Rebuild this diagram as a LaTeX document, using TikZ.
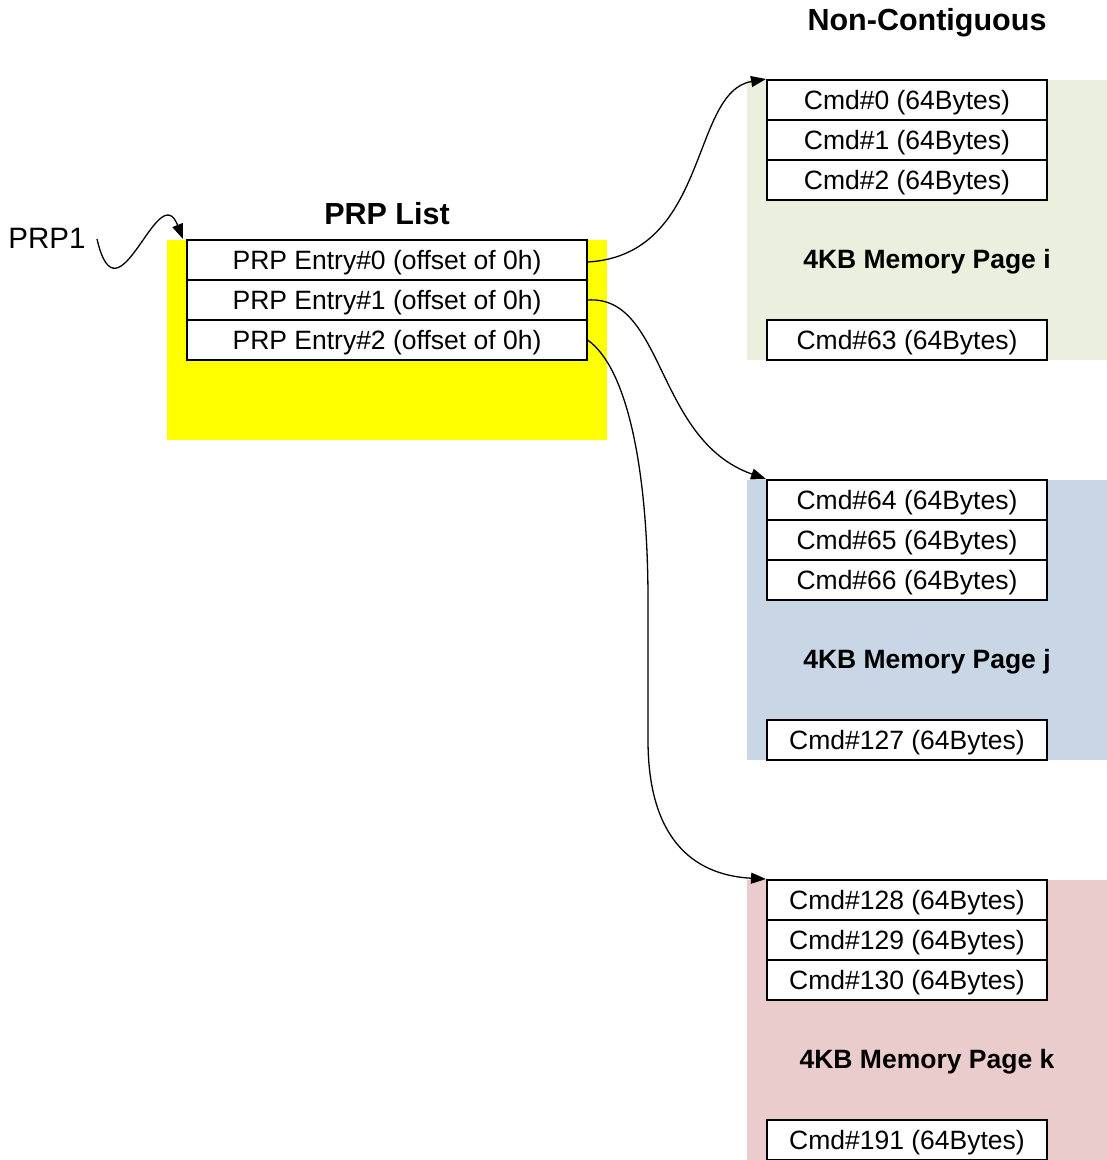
\documentclass[tikz,border=0pt]{standalone}
\usepackage{fontspec}
\setmainfont{Liberation Sans}
\usetikzlibrary{arrows.meta}
\definecolor{pgi}{RGB}{235,240,222}
\definecolor{pgj}{RGB}{200,214,230}
\definecolor{pgk}{RGB}{235,204,204}
\definecolor{ylw}{RGB}{255,255,0}
\tikzset{
  reg/.style={font=\fontsize{26.5}{30}\selectfont, text height=22pt, text depth=3.2pt},
  ttl/.style={font=\fontsize{30.5}{34}\selectfont\bfseries, text height=25pt, text depth=3.2pt},
  pglabel/.style={font=\fontsize{26.5}{30}\selectfont\bfseries, text height=22pt, text depth=3.2pt},
  cmdbox/.style={draw, line width=2pt, fill=white, minimum width=280pt, minimum height=40pt, inner sep=0pt, reg},
  prpbox/.style={draw, line width=1.2pt, fill=white, minimum width=400pt, minimum height=40pt, inner sep=0pt, reg},
  pagebg/.style={inner sep=0pt, minimum width=360pt, minimum height=280pt},
  conn/.style={line width=1.3pt, -{Triangle[length=15pt,width=11pt]}}
}
\begin{document}
\begin{tikzpicture}[x=1pt,y=-1pt]
\useasboundingbox (0,0) rectangle (1107,1160);
\clip (0,0) rectangle (1107,1160);
% backgrounds
\node[pagebg, fill=pgi] (pgI) at (927,220) {};
\node[pagebg, fill=pgj] (pgJ) at (927,620) {};
\node[pagebg, fill=pgk] (pgK) at (927,1020) {};
\node[inner sep=0pt, minimum width=440pt, minimum height=200pt, fill=ylw] (ylwbg) at (387,340) {};
% titles
\node[ttl] (nc) at (927,20) {Non-Contiguous};
\node[ttl] (pl) at (387,214) {PRP List};
\node[font=\fontsize{29.5}{33}\selectfont, text height=24pt, text depth=3.5pt] (prp1) at (47,238) {PRP1};
% PRP entries
\node[prpbox] (e0) at (387,260) {PRP Entry\#0 (offset of 0h)};
\node[prpbox] (e1) at (387,300) {PRP Entry\#1 (offset of 0h)};
\node[prpbox] (e2) at (387,340) {PRP Entry\#2 (offset of 0h)};
% page i
\node[cmdbox] (c0) at (907,100) {Cmd\#0 (64Bytes)};
\node[cmdbox] (c1) at (907,140) {Cmd\#1 (64Bytes)};
\node[cmdbox] (c2) at (907,180) {Cmd\#2 (64Bytes)};
\node[pglabel] (li) at (927,259) {4KB Memory Page i};
\node[cmdbox] (c63) at (907,340) {Cmd\#63 (64Bytes)};
% page j
\node[cmdbox] (c64) at (907,500) {Cmd\#64 (64Bytes)};
\node[cmdbox] (c65) at (907,540) {Cmd\#65 (64Bytes)};
\node[cmdbox] (c66) at (907,580) {Cmd\#66 (64Bytes)};
\node[pglabel] (lj) at (927,659) {4KB Memory Page j};
\node[cmdbox] (c127) at (907,740) {Cmd\#127 (64Bytes)};
% page k
\node[cmdbox] (c128) at (907,900) {Cmd\#128 (64Bytes)};
\node[cmdbox] (c129) at (907,940) {Cmd\#129 (64Bytes)};
\node[cmdbox] (c130) at (907,980) {Cmd\#130 (64Bytes)};
\node[pglabel] (lk) at (927,1059) {4KB Memory Page k};
\node[cmdbox] (c191) at (907,1140) {Cmd\#191 (64Bytes)};
% connectors
\coordinate (w0) at (97,239);
\coordinate (w1) at (183,239);
\draw[conn] (w0) .. controls (118,330) and (158,175) .. (w1);
\draw[conn] ([yshift=-2pt]e0.east) .. controls (710,255) and (690,92) .. (c0.north west);
\draw[conn] (e1.east) .. controls (665,295) and (655,440) .. (c64.north west);
\draw[conn] (e2.east) .. controls (630,370) and (648,480) .. (648,600) -- (648,740) .. controls (648,835) and (690,875) .. (c128.north west);
\end{tikzpicture}
\end{document}
